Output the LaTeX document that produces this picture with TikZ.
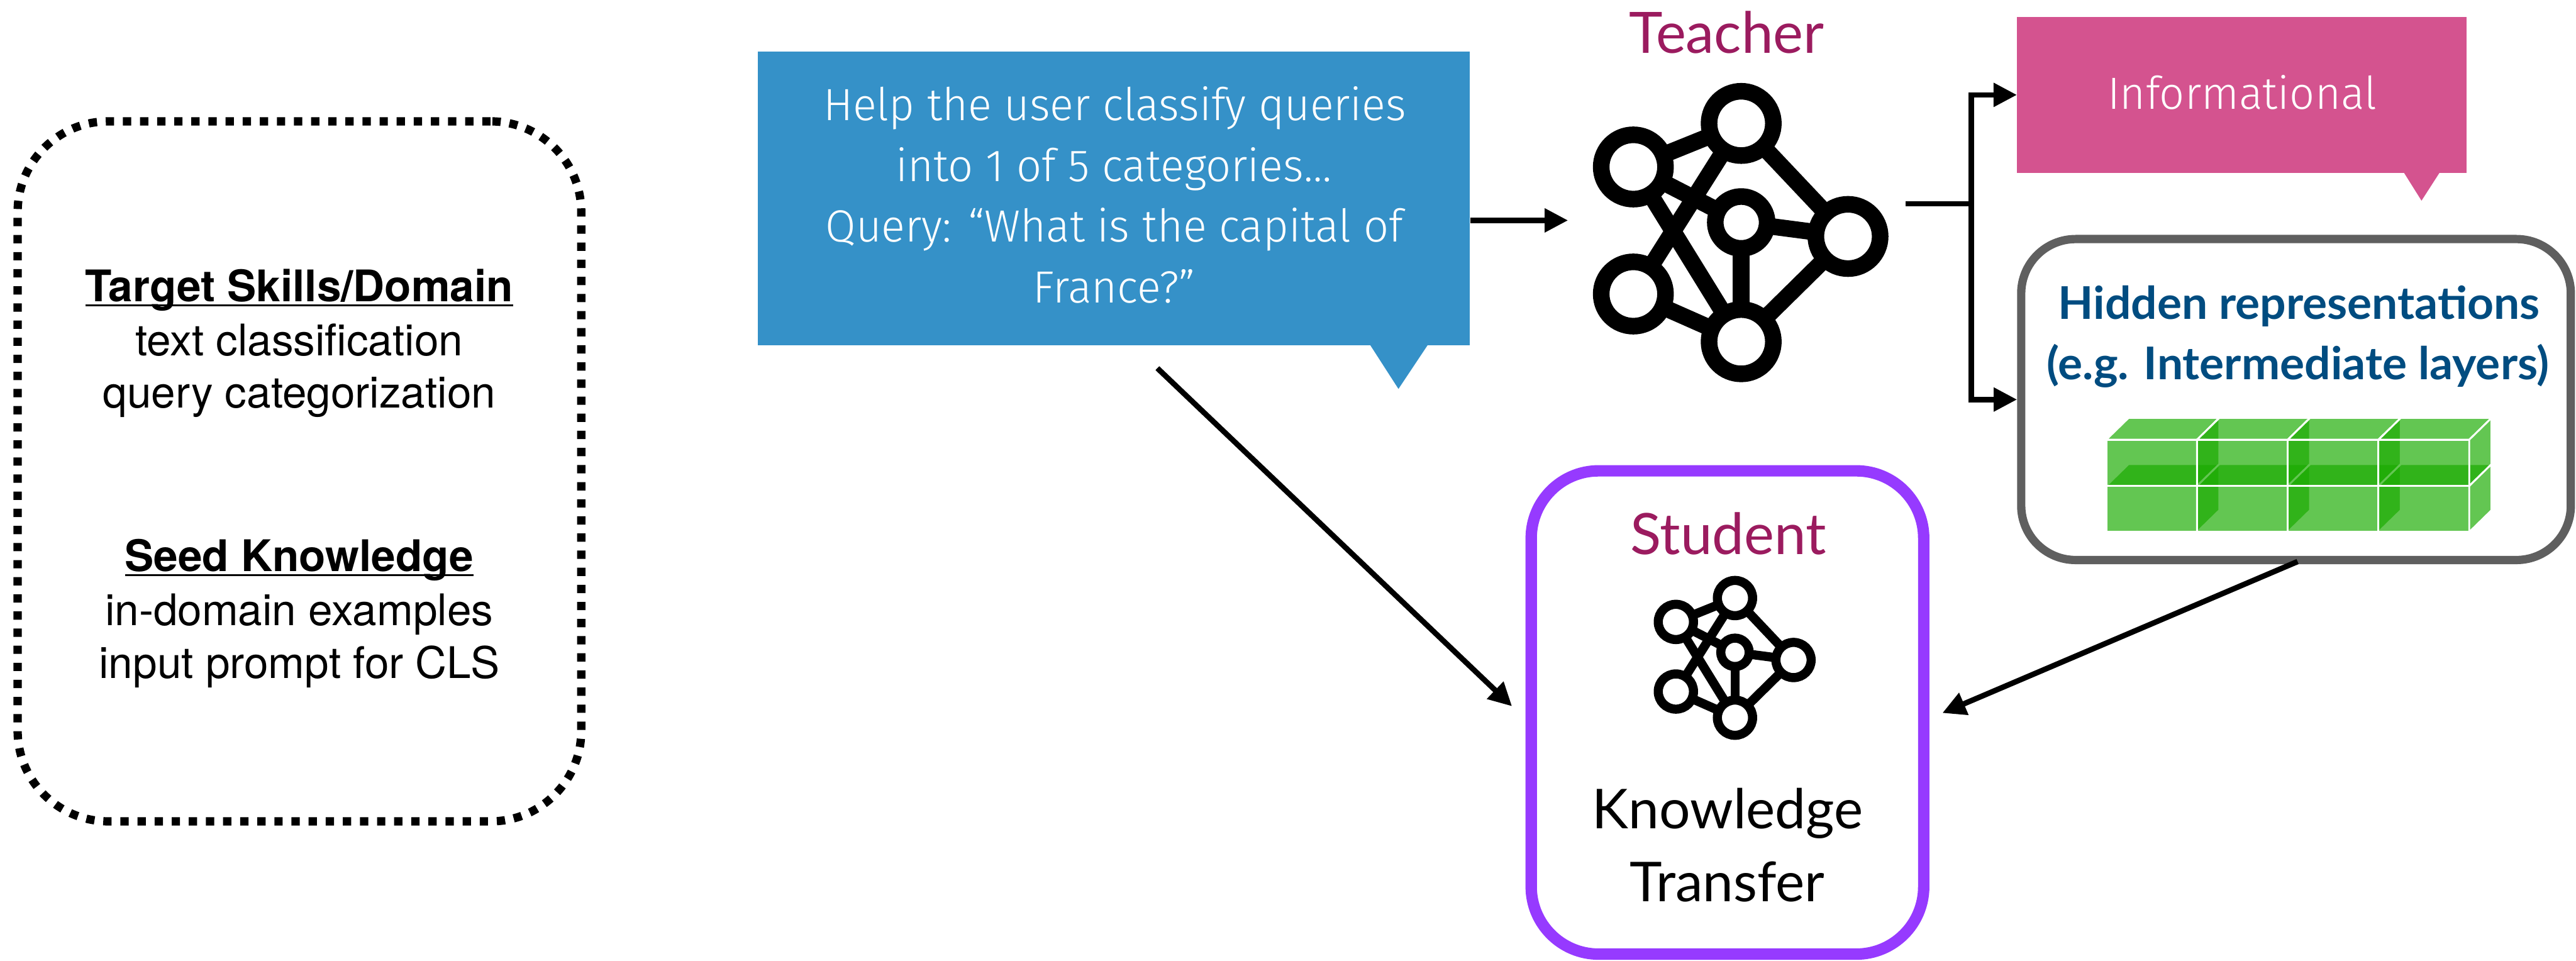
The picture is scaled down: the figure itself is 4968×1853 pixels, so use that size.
\documentclass[tikz,border=0pt]{standalone}
\usepackage{fontspec}
\usetikzlibrary{arrows.meta,backgrounds}

% type faces
\newfontfamily\helv{TeX Gyre Heros}
\IfFontExistsTF{Fira Sans Light}
  {\newfontfamily\thinsans[FakeStretch=0.98]{Fira Sans Light}}
  {\newfontfamily\thinsans[FakeStretch=0.98]{Lato}}
\newfontfamily\roundsans{Lato}
\newfontfamily\condsans[FakeStretch=1.02]{Lato}

% palette
\definecolor{qblue}{RGB}{53,145,200}
\definecolor{infopink}{RGB}{212,83,143}
\definecolor{plum}{RGB}{155,27,95}
\definecolor{studpurple}{RGB}{150,58,255}
\definecolor{framegray}{RGB}{95,95,95}
\definecolor{hidblue}{RGB}{0,76,128}
\definecolor{cubegreen}{RGB}{26,171,0}

\tikzset{
  pin/.style={anchor=base, inner sep=0pt, outer sep=0pt},
  cardhead/.style={pin, font=\helv\bfseries\fontsize{84}{100}\selectfont},
  cardline/.style={pin, font=\helv\fontsize{84}{100}\selectfont},
  bubbletext/.style={pin, text=white, font=\thinsans\fontsize{87}{104}\selectfont},
  plumlabel/.style={pin, text=plum, font=\roundsans\fontsize{110}{130}\selectfont},
  blacklabel/.style={pin, text=black, font=\roundsans\fontsize{106}{126}\selectfont},
  hidtext/.style={pin, text=hidblue, font=\condsans\bfseries\fontsize{87}{104}\selectfont},
  tip/.style={-{Triangle[length=45pt,width=44pt]}},
  link/.style={line width=10.5pt, tip},
  netdot/.style={circle, draw=black, fill=white, inner sep=0pt, outer sep=0pt},
  netlink/.style={draw=black, line cap=butt},
  cubeface/.style={fill=cubegreen, fill opacity=0.68, draw=white, draw opacity=1,
                   line width=3.5pt, line join=round},
}

% network glyph: prefix, centre x, centre y, scale
\newcommand\netglyph[4]{%
  \begin{scope}[shift={(#2,#3)}]
    \foreach \nm/\qx/\qy/\rad in {a/-208/-107/62, b/0/-191/62, c/0/0/50,
                                   d/206/27/62, e/-208/138/62, f/0/230/62}
      \node[netdot, minimum size={2*\rad*#4*1pt}, line width={32*#4*1pt}]
        (#1\nm) at ({\qx*#4},{\qy*#4}) {};
    \begin{pgfonlayer}{background}
      \foreach \ua/\ub in {a/b,a/c,a/f,b/e,b/d,c/d,c/f,e/f,d/f}
        \draw[netlink, line width={32*#4*1pt}] (#1\ua.center) -- (#1\ub.center);
    \end{pgfonlayer}
  \end{scope}}

% one green slab: top-left corner of its front face
\newcommand\slab[2]{%
  \filldraw[cubeface] (#1,#2) rectangle ++(175,89);
  \filldraw[cubeface] (#1,#2) -- ++(43,-42) -- ++(175,0) -- ++(-43,42) -- cycle;
  \filldraw[cubeface] ({#1+175},#2) -- ++(43,-42) -- ++(0,89) -- ++(-43,42) -- cycle;}

\begin{document}
\begin{tikzpicture}[x=1pt,y=-1pt]
\begin{pgfonlayer}{background}
  \fill[white] (0,0) rectangle (4968,1853);
\end{pgfonlayer}
\useasboundingbox (0,0) rectangle (4968,1853);

% ---- task card ----
\node[draw=black, line width=16pt, dash pattern=on 16pt off 17pt,
      rounded corners=175pt, minimum width=1087pt, minimum height=1350pt,
      inner sep=0pt] (card) at (577.5,909) {};
\node[cardhead] (skillhead) at (577,582) {Target Skills/Domain};
\draw[line width=3.5pt] ([yshift=-7pt]skillhead.base west) -- ([yshift=-7pt]skillhead.base east);
\node[cardline] (skill1) at (577,686) {text classification};
\node[cardline] (skill2) at (577,787) {query categorization};
\node[cardhead] (seedhead) at (577,1102) {Seed Knowledge};
\draw[line width=3.5pt] ([yshift=-7pt]seedhead.base west) -- ([yshift=-7pt]seedhead.base east);
\node[cardline] (seed1) at (577,1206) {in-domain examples};
\node[cardline] (seed2) at (577,1308) {input prompt for CLS};

% ---- prompt bubble ----
\node[fill=qblue, minimum width=1373pt, minimum height=566pt, inner sep=0pt] (query) at (2148.5,383) {};
\fill[qblue] (2639,660) -- (2697,750) -- (2757,660) -- cycle;
\node[bubbletext] (q1) at (2150,232) {Help the user classify queries};
\node[bubbletext] (q2) at (2148,350) {into 1 of 5 categories…};
\node[bubbletext] (q3) at (2149,466) {Query: “What is the capital of};
\node[bubbletext] (q4) at (2149,584) {France?”};

% ---- teacher ----
\node[plumlabel] (teacherlabel) at (3330,103) {Teacher};
\netglyph{t}{3358}{429}{1}

% ---- teacher outputs ----
\node[fill=infopink, minimum width=867pt, minimum height=300pt, inner sep=0pt] (info) at (4323.5,183) {};
\fill[infopink] (4633,328) -- (4670,387) -- (4708,328) -- cycle;
\node[bubbletext] (infotext) at (4324,210) {Informational};

\node[draw=framegray, line width=16pt, rounded corners=105pt, minimum width=1060pt,
      minimum height=619pt, inner sep=0pt] (hid) at (4428,770.5) {};
\node[hidtext] (hid1) at (4434,615) {Hidden representations};
\node[hidtext] (hid2) at (4432,732) {(e.g. Intermediate layers)};
\foreach \cx in {4062,4237,4412,4587} {\slab{\cx}{937}}
\foreach \cx in {4062,4237,4412,4587} {\slab{\cx}{848}}

% ---- student ----
\node[draw=studpurple, line width=22pt, rounded corners=130pt, minimum width=757pt,
      minimum height=932pt, inner sep=0pt] (student) at (3331.5,1374) {};
\node[plumlabel] (studentlabel) at (3333,1069) {Student};
\netglyph{s}{3346}{1258}{0.548}
\node[blacklabel] (kt1) at (3332,1598) {Knowledge};
\node[blacklabel] (kt2) at (3331,1739) {Transfer};

% ---- connectors ----
\coordinate (teachin) at (3024,425);
\draw[link] (query.east |- teachin) -- (teachin);

\coordinate (teachout) at (3675,393);
\coordinate (fork) at (3802,393);
\draw[line width=10.5pt] (teachout) -- ([xshift=5pt]fork);
\draw[line width=10.5pt, line join=miter,
      {Triangle[length=45pt,width=44pt]}-{Triangle[length=45pt,width=44pt]}]
  (info.west) -- (info.west -| fork) -- (fork |- hid.west) -- (hid.west);

\coordinate (qfoot) at (2232,710);
\coordinate (sleft) at (2916,1362);
\draw[link] (qfoot) -- (sleft);

\coordinate (hout) at (4431,1083);
\coordinate (sright) at (3746,1375);
\draw[link] (hout) -- (sright);
\end{tikzpicture}
\end{document}
